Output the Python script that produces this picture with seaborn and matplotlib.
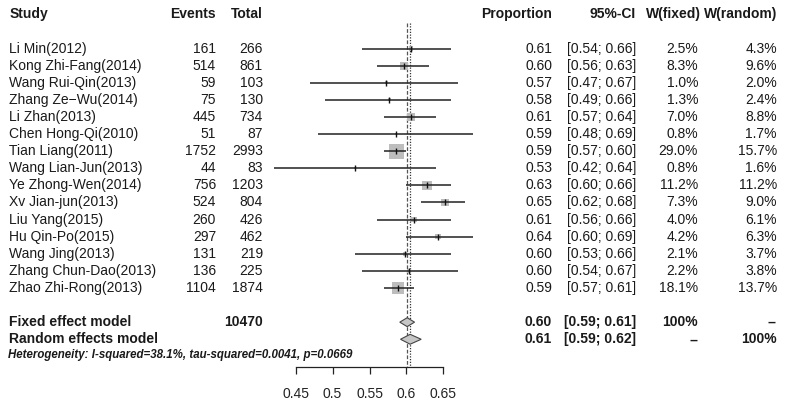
import numpy as np
import pandas as pd
import seaborn as sns
import matplotlib.pyplot as plt
from matplotlib import transforms

# data
studies = ['Li Min(2012)', 'Kong Zhi-Fang(2014)', 'Wang Rui-Qin(2013)', 'Zhang Ze\u2212Wu(2014)',
           'Li Zhan(2013)', 'Chen Hong-Qi(2010)', 'Tian Liang(2011)', 'Wang Lian-Jun(2013)',
           'Ye Zhong-Wen(2014)', 'Xv Jian-jun(2013)', 'Liu Yang(2015)', 'Hu Qin-Po(2015)',
           'Wang Jing(2013)', 'Zhang Chun-Dao(2013)', 'Zhao Zhi-Rong(2013)']
events = [161, 514, 59, 75, 445, 51, 1752, 44, 756, 524, 260, 297, 131, 136, 1104]
totals = [266, 861, 103, 130, 734, 87, 2993, 83, 1203, 804, 426, 462, 219, 225, 1874]
prop = [0.606, 0.597, 0.573, 0.577, 0.606, 0.586, 0.586, 0.530, 0.628, 0.652,
        0.610, 0.643, 0.598, 0.604, 0.589]
ci_lo = [0.54, 0.56, 0.47, 0.49, 0.57, 0.48, 0.57, 0.42, 0.60, 0.62, 0.56, 0.60, 0.53, 0.54, 0.57]
ci_hi = [0.66, 0.63, 0.67, 0.66, 0.64, 0.69, 0.60, 0.64, 0.66, 0.68, 0.66, 0.69, 0.66, 0.67, 0.61]
w_fixed = [2.5, 8.3, 1.0, 1.3, 7.0, 0.8, 29.0, 0.8, 11.2, 7.3, 4.0, 4.2, 2.1, 2.2, 18.1]
w_random = [4.3, 9.6, 2.0, 2.4, 8.8, 1.7, 15.7, 1.6, 11.2, 9.0, 6.1, 6.3, 3.7, 3.8, 13.7]

total_n = 10470
fixed = (0.591, 0.601, 0.611)   # lower, estimate, upper
random = (0.592, 0.605, 0.620)
fixed_txt = '0.60 [0.59; 0.61]'
random_txt = '0.61 [0.59; 0.62]'
het_txt = 'Heterogeneity: I-squared=38.1%, tau-squared=0.0041, p=0.0669'
ticks = [0.45, 0.5, 0.55, 0.6, 0.65]
tick_labels = ['0.45', '0.5', '0.55', '0.6', '0.65']

df = pd.DataFrame({'study': studies, 'events': events, 'total': totals, 'prop': prop,
                   'lo': ci_lo, 'hi': ci_hi, 'wf': w_fixed, 'wr': w_random})
df['row'] = np.arange(len(df))

sns.set_theme(style='white')
plt.rcParams['font.family'] = ['Liberation Sans', 'DejaVu Sans']

W, H = 793, 407
fig = plt.figure(figsize=(W / 100, H / 100), dpi=100)
ax = fig.add_axes([0, 0, 1, 1])
ax.set_xlim(0.0493, 1.1238)
ax.set_ylim(20.96, -2.836)

# reference lines (fixed dashed, random dotted)
ax.vlines(fixed[1], -1.49, 18.6, linestyles=(0, (3, 1.5)), colors='#555555', lw=0.9, zorder=1)
ax.vlines(random[1], -1.49, 18.6, linestyles=(0, (1, 1.2)), colors='#333333', lw=0.9, zorder=1)

# study squares, area ~ fixed weight
sns.scatterplot(data=df, x='prop', y='row', marker='s', s=df['wf'] * 4.0,
                color='#bdbdbd', edgecolor='none', ax=ax, legend=False, zorder=2)
ax.hlines(df['row'], df['lo'], df['hi'], colors='#222222', lw=1.1, zorder=3)
ax.scatter(df['prop'], df['row'], marker='|', s=18, color='#111111', lw=1, zorder=4)

# pooled diamonds
for (lo, est, hi), row, h in [(fixed, 16, 0.26), (random, 17, 0.29)]:
    ax.fill([lo, est, hi, est], [row, row - h, row, row + h],
            facecolor='#c6c6c6', edgecolor='#444444', lw=0.8, zorder=3)

# bottom axis
for s in ['top', 'right', 'left']:
    ax.spines[s].set_visible(False)
ax.spines['bottom'].set_position(('data', 18.6))
ax.spines['bottom'].set_bounds(ticks[0], ticks[-1])
ax.spines['bottom'].set_color('#222222')
ax.spines['bottom'].set_linewidth(0.9)
ax.set_xticks(ticks)
ax.set_xticklabels(tick_labels)
ax.set_yticks([])
ax.tick_params(axis='x', bottom=True, direction='out', length=5, width=0.9,
               pad=9.5, labelsize=10, colors='#222222')
ax.set_xlabel('')
ax.set_ylabel('')

# text columns
tr = transforms.blended_transform_factory(fig.transFigure, ax.transData)


def put(xpx, row, s, ha='left', bold=False, size=10, style='normal'):
    ax.text(xpx / W, row, s, transform=tr, ha=ha, va='center', fontsize=size,
            fontweight='bold' if bold else 'normal', fontstyle=style, color='#1a1a1a')


hdr = -2.0
put(10, hdr, 'Study', bold=True)
put(216, hdr, 'Events', ha='right', bold=True)
put(263, hdr, 'Total', ha='right', bold=True)
put(552, hdr, 'Proportion', ha='right', bold=True)
put(636, hdr, '95%-CI', ha='right', bold=True)
put(701, hdr, 'W(fixed)', ha='right', bold=True)
put(777, hdr, 'W(random)', ha='right', bold=True)

for r in df.itertuples():
    put(9, r.row, r.study)
    put(216, r.row, str(r.events), ha='right')
    put(263, r.row, str(r.total), ha='right')
    put(552, r.row, f'{r.prop:.2f}', ha='right')
    put(636, r.row, f'[{r.lo:.2f}; {r.hi:.2f}]', ha='right')
    put(698, r.row, f'{r.wf:.1f}%', ha='right')
    put(777, r.row, f'{r.wr:.1f}%', ha='right')

put(9, 16, 'Fixed effect model', bold=True)
put(263, 16, str(total_n), ha='right', bold=True)
put(552, 16, fixed_txt.split(' [')[0], ha='right', bold=True)
put(636, 16, '[' + fixed_txt.split(' [')[1], ha='right', bold=True)
put(698, 16, '100%', ha='right', bold=True)
put(777, 16, '--', ha='right', bold=True)

put(9, 17, 'Random effects model', bold=True)
put(552, 17, random_txt.split(' [')[0], ha='right', bold=True)
put(636, 17, '[' + random_txt.split(' [')[1], ha='right', bold=True)
put(698, 17, '--', ha='right', bold=True)
put(777, 17, '100%', ha='right', bold=True)

put(8, 17.9, het_txt, bold=True, size=8.3, style='italic')

fig.savefig('out.png', dpi=100)
